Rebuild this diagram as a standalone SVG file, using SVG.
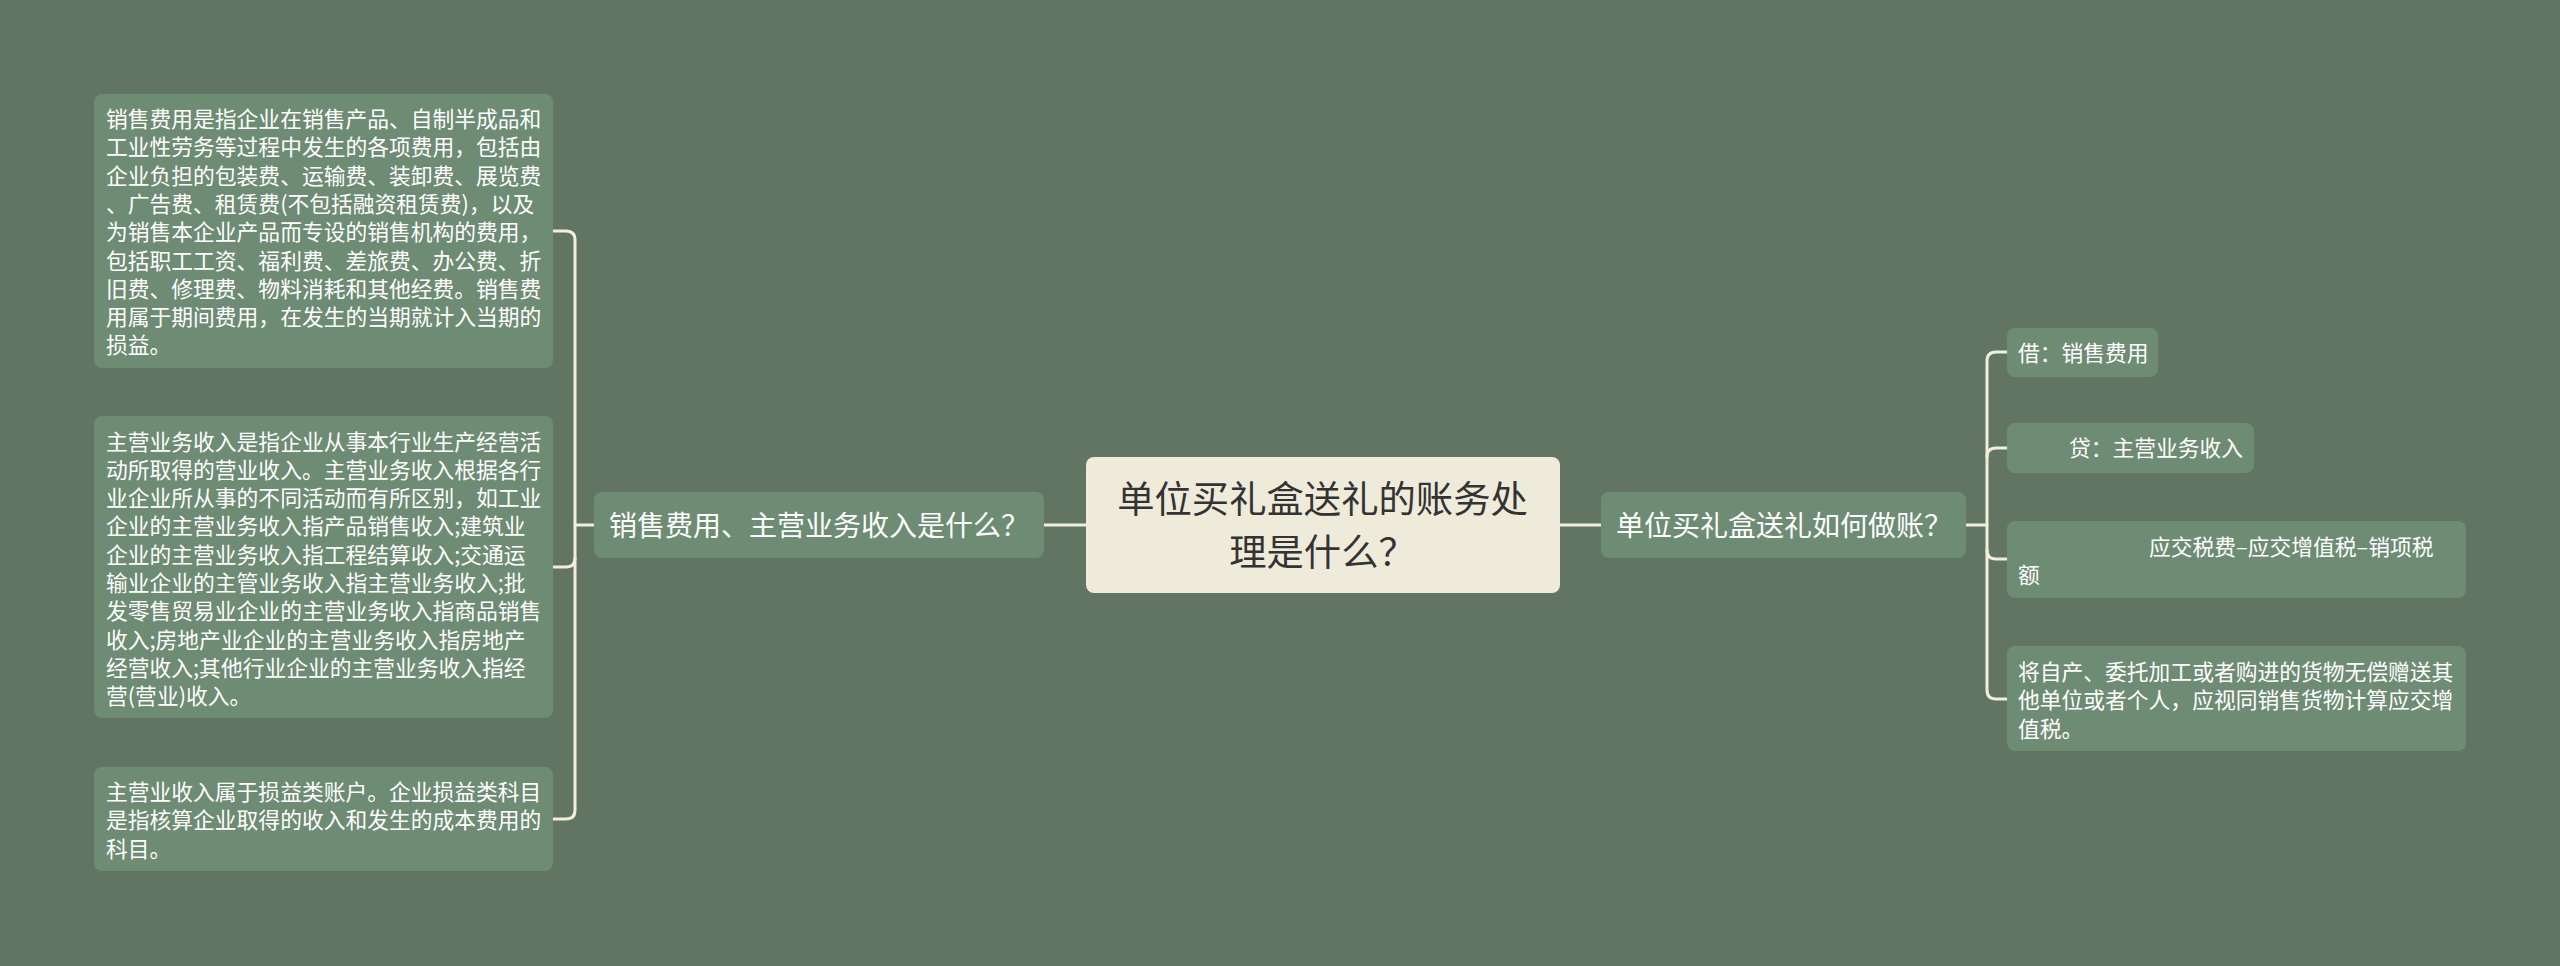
<svg xmlns="http://www.w3.org/2000/svg" width="2560" height="966" viewBox="0 0 2560 966">
<style>
.bg{fill:#627562}
.node{fill:#6e8b74}
.root{fill:#efebdb}
.t{font-family:"Noto Sans CJK SC","Noto Sans",sans-serif;fill:#ffffff}
.leaf{font-size:21.78px}
.branch{font-size:28px}
.roott{font-size:37.33px;fill:#333333}
.conn{fill:none;stroke:#f2eedb;stroke-width:3;stroke-linecap:round}
</style>
<rect class="bg" x="0" y="0" width="2560" height="966"/>
<g id="connectors">
<path class="conn" d="M1086,525 H1043"/>
<path class="conn" d="M1560,525 H1601"/>
<path class="conn" d="M594,525 H575"/>
<path class="conn" d="M553,231 H566 Q575,231 575,240 V810 Q575,819 566,819 H553"/>
<path class="conn" d="M553,567 H566 Q575,567 575,558"/>
<path class="conn" d="M1966,525 H1987"/>
<path class="conn" d="M2007,352 H1996 Q1987,352 1987,361 V690 Q1987,699 1996,699 H2007"/>
<path class="conn" d="M2007,448 H1996 Q1987,448 1987,457"/>
<path class="conn" d="M2007,559 H1996 Q1987,559 1987,550"/>
</g>
<g id="root">
<rect class="root" x="1086" y="457" width="474" height="136" rx="8"/>
<text class="t roott" x="1322.5" y="512.7" text-anchor="middle">单位买礼盒送礼的账务处</text>
<text class="t roott" x="1322.5" y="566.2" text-anchor="middle">理是什么？</text>
</g>
<g id="branch-left">
<rect class="node" x="594" y="492" width="450" height="66" rx="8"/>
<text class="t branch" x="609" y="535.6">销售费用、主营业务收入是什么？</text>
</g>
<g id="branch-right">
<rect class="node" x="1601" y="492" width="365" height="66" rx="8"/>
<text class="t branch" x="1616" y="535.6">单位买礼盒送礼如何做账？</text>
</g>
<g id="leaf-l1">
<rect class="node" x="94" y="94" width="459" height="274" rx="8"/>
<text class="t leaf" x="106" y="127">
<tspan x="106" y="127">销售费用是指企业在销售产品、自制半成品和</tspan>
<tspan x="106" y="155.3">工业性劳务等过程中发生的各项费用，包括由</tspan>
<tspan x="106" y="183.6">企业负担的包装费、运输费、装卸费、展览费</tspan>
<tspan x="106" y="211.9">、广告费、租赁费(不包括融资租赁费)，以及</tspan>
<tspan x="106" y="240.2">为销售本企业产品而专设的销售机构的费用，</tspan>
<tspan x="106" y="268.5">包括职工工资、福利费、差旅费、办公费、折</tspan>
<tspan x="106" y="296.8">旧费、修理费、物料消耗和其他经费。销售费</tspan>
<tspan x="106" y="325.1">用属于期间费用，在发生的当期就计入当期的</tspan>
<tspan x="106" y="353.4">损益。</tspan>
</text>
</g>
<g id="leaf-l2">
<rect class="node" x="94" y="416" width="459" height="302" rx="8"/>
<text class="t leaf" x="106" y="449.5">
<tspan x="106" y="449.5">主营业务收入是指企业从事本行业生产经营活</tspan>
<tspan x="106" y="477.8">动所取得的营业收入。主营业务收入根据各行</tspan>
<tspan x="106" y="506.1">业企业所从事的不同活动而有所区别，如工业</tspan>
<tspan x="106" y="534.4">企业的主营业务收入指产品销售收入;建筑业</tspan>
<tspan x="106" y="562.7">企业的主营业务收入指工程结算收入;交通运</tspan>
<tspan x="106" y="591">输业企业的主管业务收入指主营业务收入;批</tspan>
<tspan x="106" y="619.3">发零售贸易业企业的主营业务收入指商品销售</tspan>
<tspan x="106" y="647.6">收入;房地产业企业的主营业务收入指房地产</tspan>
<tspan x="106" y="675.9">经营收入;其他行业企业的主营业务收入指经</tspan>
<tspan x="106" y="704.2">营(营业)收入。</tspan>
</text>
</g>
<g id="leaf-l3">
<rect class="node" x="94" y="767" width="459" height="104" rx="8"/>
<text class="t leaf" x="106" y="800">
<tspan x="106" y="800">主营业收入属于损益类账户。企业损益类科目</tspan>
<tspan x="106" y="828.3">是指核算企业取得的收入和发生的成本费用的</tspan>
<tspan x="106" y="856.6">科目。</tspan>
</text>
</g>
<g id="leaf-r1">
<rect class="node" x="2007" y="328" width="151" height="49" rx="8"/>
<text class="t leaf" x="2018" y="361">借：销售费用</text>
</g>
<g id="leaf-r2">
<rect class="node" x="2007" y="423" width="247" height="50" rx="8"/>
<text class="t leaf" x="2069" y="456">贷：主营业务收入</text>
</g>
<g id="leaf-r3">
<rect class="node" x="2007" y="521" width="459" height="77" rx="8"/>
<text class="t leaf" x="2149" y="554.5">
<tspan x="2149" y="554.5">应交税费–应交增值税–销项税</tspan>
<tspan x="2018" y="582.8">额</tspan>
</text>
</g>
<g id="leaf-r4">
<rect class="node" x="2007" y="646" width="459" height="105" rx="8"/>
<text class="t leaf" x="2018" y="680">
<tspan x="2018" y="680">将自产、委托加工或者购进的货物无偿赠送其</tspan>
<tspan x="2018" y="708.3">他单位或者个人，应视同销售货物计算应交增</tspan>
<tspan x="2018" y="736.6">值税。</tspan>
</text>
</g>
</svg>
